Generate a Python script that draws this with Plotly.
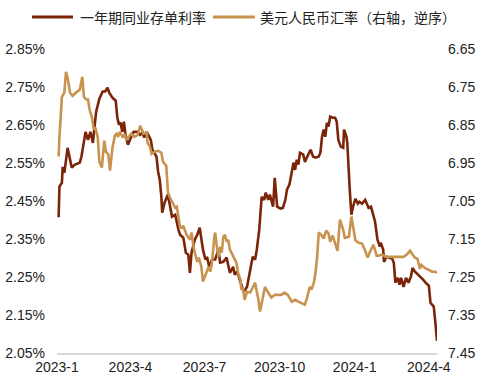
import plotly.graph_objects as go

# 一年期同业存单利率 (%, left axis)
rate_dates = [
    "2023-01-03","2023-01-04","2023-01-07","2023-01-08","2023-01-10","2023-01-14","2023-01-17","2023-01-19",
    "2023-01-23","2023-01-29","2023-01-31","2023-02-02","2023-02-05","2023-02-08","2023-02-11","2023-02-14",
    "2023-02-16","2023-02-18","2023-02-22","2023-02-26","2023-03-01","2023-03-04","2023-03-06","2023-03-10",
    "2023-03-14","2023-03-16","2023-03-18","2023-03-20","2023-03-22","2023-03-24","2023-03-26","2023-03-29",
    "2023-04-02","2023-04-05","2023-04-10","2023-04-13","2023-04-16","2023-04-18","2023-04-21","2023-04-24",
    "2023-04-26","2023-04-28","2023-05-03","2023-05-05","2023-05-07","2023-05-09","2023-05-10","2023-05-13",
    "2023-05-17","2023-05-22","2023-05-26","2023-05-30","2023-06-01","2023-06-05","2023-06-08","2023-06-11",
    "2023-06-13","2023-06-15","2023-06-19","2023-06-22","2023-06-25","2023-06-29","2023-07-02","2023-07-04",
    "2023-07-07","2023-07-10","2023-07-14","2023-07-18","2023-07-20","2023-07-24","2023-07-28","2023-08-01",
    "2023-08-05","2023-08-07","2023-08-10","2023-08-13","2023-08-16","2023-08-18","2023-08-22","2023-08-24",
    "2023-08-26","2023-08-29","2023-09-01","2023-09-03","2023-09-06","2023-09-08","2023-09-09","2023-09-12",
    "2023-09-14","2023-09-17","2023-09-19","2023-09-23","2023-09-25","2023-09-28","2023-10-02","2023-10-05",
    "2023-10-08","2023-10-10","2023-10-13","2023-10-16","2023-10-18","2023-10-20","2023-10-22","2023-10-24",
    "2023-10-26","2023-10-30","2023-11-01","2023-11-04","2023-11-08","2023-11-11","2023-11-14","2023-11-18",
    "2023-11-20","2023-11-22","2023-11-24","2023-11-26","2023-11-28","2023-11-30","2023-12-02","2023-12-05",
    "2023-12-08","2023-12-10","2023-12-12","2023-12-15","2023-12-18","2023-12-19","2023-12-22","2023-12-23",
    "2023-12-25","2023-12-26","2023-12-28","2023-12-30","2024-01-02","2024-01-05","2024-01-07","2024-01-10",
    "2024-01-14","2024-01-18","2024-01-21","2024-01-24","2024-01-26","2024-01-29","2024-02-01","2024-02-02",
    "2024-02-05","2024-02-06","2024-02-09","2024-02-12","2024-02-16","2024-02-18","2024-02-20","2024-02-23",
    "2024-02-25","2024-02-27","2024-03-01","2024-03-04","2024-03-07","2024-03-10","2024-03-12","2024-03-15",
    "2024-03-19","2024-03-23","2024-03-25","2024-03-28","2024-04-01","2024-04-03","2024-04-07","2024-04-09",
    "2024-04-11",
]
rate_values = [
    2.407,2.488,2.498,2.540,2.524,2.590,2.559,2.538,
    2.546,2.551,2.567,2.590,2.632,2.611,2.632,2.603,
    2.646,2.685,2.719,2.738,2.738,2.748,2.735,2.722,
    2.714,2.669,2.651,2.656,2.632,2.659,2.624,2.598,
    2.619,2.632,2.632,2.624,2.630,2.617,2.632,2.619,
    2.611,2.585,2.567,2.527,2.506,2.461,2.419,2.446,
    2.467,2.409,2.414,2.374,2.361,2.353,2.314,2.309,
    2.261,2.314,2.348,2.361,2.380,2.322,2.296,2.303,
    2.274,2.296,2.296,2.322,2.288,2.290,2.301,2.261,
    2.277,2.256,2.264,2.243,2.222,2.211,2.224,2.248,
    2.269,2.303,2.296,2.322,2.374,2.419,2.461,2.453,
    2.472,2.453,2.467,2.435,2.511,2.435,2.430,2.432,
    2.453,2.480,2.493,2.527,2.551,2.532,2.559,2.546,
    2.577,2.572,2.553,2.567,2.585,2.567,2.564,2.567,
    2.577,2.619,2.638,2.619,2.656,2.646,2.672,2.669,
    2.669,2.659,2.611,2.593,2.590,2.638,2.619,2.603,
    2.540,2.480,2.414,2.435,2.456,2.443,2.448,2.443,
    2.453,2.432,2.435,2.409,2.396,2.348,2.330,2.340,
    2.322,2.290,2.303,2.301,2.298,2.288,2.235,2.248,
    2.230,2.248,2.224,2.248,2.235,2.251,2.274,2.264,
    2.256,2.248,2.243,2.235,2.227,2.182,2.172,2.130,
    2.082,
]

# 美元人民币汇率 (right axis, reversed)
fx_dates = [
    "2023-01-03","2023-01-04","2023-01-07","2023-01-10","2023-01-12","2023-01-14","2023-01-17","2023-01-20",
    "2023-01-24","2023-01-29","2023-02-01","2023-02-03","2023-02-06","2023-02-08","2023-02-10","2023-02-13",
    "2023-02-15","2023-02-17","2023-02-20","2023-02-22","2023-02-25","2023-02-28","2023-03-02","2023-03-05",
    "2023-03-07","2023-03-10","2023-03-13","2023-03-15","2023-03-17","2023-03-19","2023-03-23","2023-03-25",
    "2023-03-27","2023-03-29","2023-04-02","2023-04-06","2023-04-10","2023-04-13","2023-04-15","2023-04-17",
    "2023-04-21","2023-04-22","2023-04-25","2023-04-27","2023-05-01","2023-05-05","2023-05-09","2023-05-11",
    "2023-05-15","2023-05-17","2023-05-19","2023-05-23","2023-05-26","2023-05-28","2023-05-30","2023-06-01",
    "2023-06-05","2023-06-09","2023-06-13","2023-06-15","2023-06-18","2023-06-20","2023-06-22","2023-06-24",
    "2023-06-27","2023-06-29","2023-07-03","2023-07-06","2023-07-08","2023-07-10","2023-07-13","2023-07-14",
    "2023-07-16","2023-07-18","2023-07-20","2023-07-22","2023-07-24","2023-07-26","2023-07-28","2023-07-30",
    "2023-08-01","2023-08-05","2023-08-09","2023-08-11","2023-08-14","2023-08-15","2023-08-17","2023-08-19",
    "2023-08-22","2023-08-26","2023-08-29","2023-09-01","2023-09-03","2023-09-05","2023-09-07","2023-09-09",
    "2023-09-13","2023-09-17","2023-09-21","2023-09-25","2023-09-29","2023-10-03","2023-10-07","2023-10-11",
    "2023-10-16","2023-10-20","2023-10-24","2023-10-28","2023-11-01","2023-11-04","2023-11-07","2023-11-09",
    "2023-11-12","2023-11-14","2023-11-16","2023-11-18","2023-11-21","2023-11-24","2023-11-27","2023-11-30",
    "2023-12-02","2023-12-05","2023-12-08","2023-12-11","2023-12-14","2023-12-18","2023-12-20","2023-12-25",
    "2023-12-28","2023-12-30","2024-01-02","2024-01-06","2024-01-10","2024-01-14","2024-01-17","2024-01-20",
    "2024-01-24","2024-01-28","2024-01-30","2024-02-04","2024-02-08","2024-02-14","2024-02-22","2024-03-01",
    "2024-03-05","2024-03-09","2024-03-12","2024-03-15","2024-03-18","2024-03-21","2024-03-23","2024-03-27",
    "2024-04-01","2024-04-05","2024-04-09","2024-04-11",
]
fx_values = [
    6.933,6.881,6.776,6.765,6.710,6.726,6.765,6.773,
    6.765,6.757,6.723,6.776,6.783,6.783,6.810,6.831,
    6.862,6.857,6.883,6.947,6.962,6.891,6.920,6.928,
    6.970,6.910,6.878,6.873,6.881,6.868,6.883,6.873,
    6.889,6.883,6.873,6.881,6.876,6.852,6.862,6.873,
    6.870,6.897,6.907,6.926,6.920,6.918,6.923,6.947,
    6.957,7.026,7.039,7.054,7.068,7.065,7.099,7.120,
    7.117,7.139,7.152,7.133,7.178,7.197,7.210,7.199,
    7.223,7.262,7.239,7.223,7.236,7.212,7.144,7.133,
    7.170,7.197,7.170,7.186,7.144,7.139,7.157,7.152,
    7.178,7.197,7.212,7.239,7.257,7.283,7.278,7.310,
    7.289,7.291,7.278,7.265,7.289,7.310,7.341,7.318,
    7.276,7.291,7.304,7.297,7.297,7.297,7.291,7.297,
    7.315,7.310,7.315,7.318,7.323,7.302,7.276,7.283,
    7.265,7.239,7.197,7.133,7.139,7.149,7.128,7.136,
    7.157,7.141,7.162,7.181,7.099,7.126,7.147,7.144,
    7.091,7.118,7.154,7.160,7.162,7.181,7.199,7.183,
    7.165,7.194,7.194,7.191,7.197,7.197,7.197,7.197,
    7.191,7.181,7.191,7.199,7.202,7.228,7.218,7.226,
    7.231,7.236,7.236,7.239,
]

x_tick_vals = ["2023-01-01", "2023-04-01", "2023-07-01", "2023-10-01", "2024-01-01", "2024-04-01"]
x_tick_text = ["2023-1", "2023-4", "2023-7", "2023-10", "2024-1", "2024-4"]
left_ticks = [2.05, 2.15, 2.25, 2.35, 2.45, 2.55, 2.65, 2.75, 2.85]
left_tick_text = ["2.05%", "2.15%", "2.25%", "2.35%", "2.45%", "2.55%", "2.65%", "2.75%", "2.85%"]
right_ticks = [6.65, 6.75, 6.85, 6.95, 7.05, 7.15, 7.25, 7.35, 7.45]
right_tick_text = ["6.65", "6.75", "6.85", "6.95", "7.05", "7.15", "7.25", "7.35", "7.45"]

names = ["一年期同业存单利率", "美元人民币汇率（右轴，逆序）"]
DARK = "#7B2408"
TAN = "#C8934F"
FONT = "Liberation Sans, Arial, Noto Sans CJK SC, sans-serif"
CJK = "Noto Sans CJK SC, Liberation Sans, sans-serif"

W, H = 485, 382
ML, MR, MT, MB = 57, 48, 49, 29
PW, PH = W - ML - MR, H - MT - MB

def px(xp):
    return (xp - ML) / PW

def py(yp):
    return (H - MB - yp) / PH

fig = go.Figure()
fig.add_trace(go.Scatter(x=rate_dates, y=rate_values, name=names[0], mode="lines",
                         line=dict(color=DARK, width=2.6), yaxis="y"))
fig.add_trace(go.Scatter(x=fx_dates, y=fx_values, name=names[1], mode="lines",
                         line=dict(color=TAN, width=2.6), yaxis="y2"))

# Manual single-row legend (plotly would wrap it)
leg_y = py(17)
shapes = []
annotations = []
for (x0, x1, tx, color, name) in [(32, 73, 78, DARK, names[0]), (213, 255, 258, TAN, names[1])]:
    shapes.append(dict(type="line", xref="paper", yref="paper", x0=px(x0), x1=px(x1),
                       y0=leg_y, y1=leg_y, line=dict(color=color, width=3)))
    annotations.append(dict(xref="paper", yref="paper", x=px(tx), y=leg_y, text=name,
                            showarrow=False, xanchor="left", yanchor="middle",
                            font=dict(family=CJK, size=14, color="#222222")))

fig.update_layout(
    width=W, height=H,
    margin=dict(l=ML, r=MR, t=MT, b=MB),
    paper_bgcolor="white", plot_bgcolor="white",
    font=dict(family=FONT, size=14, color="#222222"),
    showlegend=False,
    shapes=shapes,
    annotations=annotations,
    xaxis=dict(type="date", range=["2023-01-01", "2024-04-11"],
               tickvals=x_tick_vals, ticktext=x_tick_text, automargin=False,
               showgrid=False, zeroline=False, showline=True, linecolor="#D9D9D9", linewidth=1.5,
               ticks="", tickfont=dict(size=14)),
    yaxis=dict(range=[2.05, 2.85], tickvals=left_ticks, ticktext=left_tick_text, automargin=False,
               showgrid=False, zeroline=False, showline=False, ticks="",
               ticklabelstandoff=11, tickfont=dict(size=14)),
    yaxis2=dict(range=[7.45, 6.65], tickvals=right_ticks, ticktext=right_tick_text, automargin=False,
                overlaying="y", side="right",
                showgrid=False, zeroline=False, showline=False, ticks="",
                ticklabelstandoff=10, tickfont=dict(size=14)),
)

fig.write_html("out.html", config={"displayModeBar": False},
               post_script="document.body.style.margin='0px';document.body.style.overflow='hidden';")
